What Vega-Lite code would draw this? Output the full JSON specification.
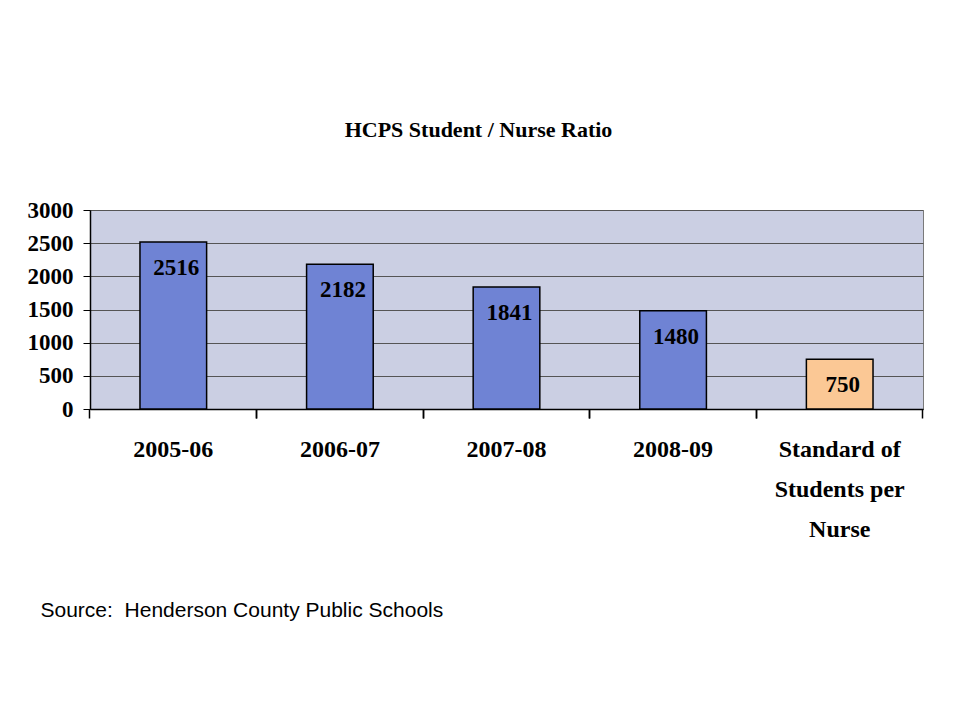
{
  "$schema": "https://vega.github.io/schema/vega-lite/v6.json",
  "width": 833,
  "height": 199,
  "autosize": {"type": "none"},
  "padding": {"left": 90, "top": 210, "right": 34, "bottom": 311},
  "background": "white",
  "title": {
    "text": "HCPS Student / Nurse Ratio",
    "font": "Liberation Serif",
    "fontSize": 22,
    "fontWeight": "bold",
    "color": "black",
    "offset": 57,
    "dx": -28,
    "anchor": "middle"
  },
  "data": {
    "values": [
      {"period": "2005-06", "ratio": 2516, "kind": "actual"},
      {"period": "2006-07", "ratio": 2182, "kind": "actual"},
      {"period": "2007-08", "ratio": 1841, "kind": "actual"},
      {"period": "2008-09", "ratio": 1480, "kind": "actual"},
      {"period": "Standard of Students per Nurse", "ratio": 750, "kind": "standard"}
    ]
  },
  "encoding": {
    "x": {
      "field": "period",
      "type": "nominal",
      "sort": null,
      "scale": {"paddingInner": 0.6, "paddingOuter": 0.3}
    },
    "y": {
      "field": "ratio",
      "type": "quantitative",
      "scale": {"domain": [0, 3000]},
      "axis": {
        "title": null,
        "values": [0, 500, 1000, 1500, 2000, 2500, 3000],
        "format": "d",
        "labelFont": "Liberation Serif",
        "labelFontSize": 23,
        "labelFontWeight": "bold",
        "labelColor": "black",
        "labelPadding": 10,
        "tickSize": 7,
        "tickColor": "black",
        "domainColor": "black",
        "domainWidth": 1.5,
        "gridColor": "#555555",
        "gridWidth": 1.2,
        "gridOpacity": 1
      }
    }
  },
  "layer": [
    {
      "mark": {"type": "bar", "stroke": "black", "strokeWidth": 1.5},
      "encoding": {
        "x": {
          "field": "period",
          "type": "nominal",
          "sort": null,
          "axis": {
            "orient": "bottom",
            "title": "Source:\u00a0 Henderson County Public Schools",
            "titleFont": "Liberation Sans",
            "titleFontSize": 21,
            "titleFontWeight": "normal",
            "titleColor": "black",
            "titleAnchor": "start",
            "titleAlign": "left",
            "titleBaseline": "alphabetic",
            "titleX": -50,
            "titleY": 207,
            "labelAngle": 0,
            "labelFont": "Liberation Serif",
            "labelFontSize": 24,
            "labelFontWeight": "bold",
            "labelColor": "black",
            "labelBaseline": "top",
            "labelAlign": "center",
            "labelPadding": 19,
            "labelLineHeight": 40,
            "labelLimit": 300,
            "labelExpr": "datum.value == 'Standard of Students per Nurse' ? ['Standard of', 'Students per', 'Nurse'] : datum.label",
            "bandPosition": -0.75,
            "ticks": true,
            "tickSize": 9,
            "tickWidth": 1.5,
            "tickColor": "black",
            "domainColor": "black",
            "domainWidth": 1.5,
            "grid": false
          }
        },
        "color": {
          "field": "kind",
          "type": "nominal",
          "scale": {"domain": ["actual", "standard"], "range": ["#6f83d4", "#fbc895"]},
          "legend": null
        }
      }
    },
    {
      "mark": {
        "type": "text",
        "font": "Liberation Serif",
        "fontSize": 23,
        "fontWeight": "bold",
        "color": "black",
        "baseline": "middle",
        "dy": 26,
        "dx": 3
      },
      "encoding": {
        "x": {
          "field": "period",
          "type": "nominal",
          "sort": null,
          "axis": {
            "orient": "bottom",
            "title": null,
            "labels": false,
            "domain": false,
            "grid": false,
            "bandPosition": 1.75,
            "ticks": true,
            "tickSize": 9,
            "tickWidth": 1.5,
            "tickColor": "black"
          }
        },
        "text": {"field": "ratio", "type": "quantitative", "format": "d"}
      }
    }
  ],
  "resolve": {"axis": {"x": "independent"}},
  "config": {
    "view": {"stroke": "#7a7a7a", "strokeWidth": 1, "fill": "#cbcfe3"}
  }
}
